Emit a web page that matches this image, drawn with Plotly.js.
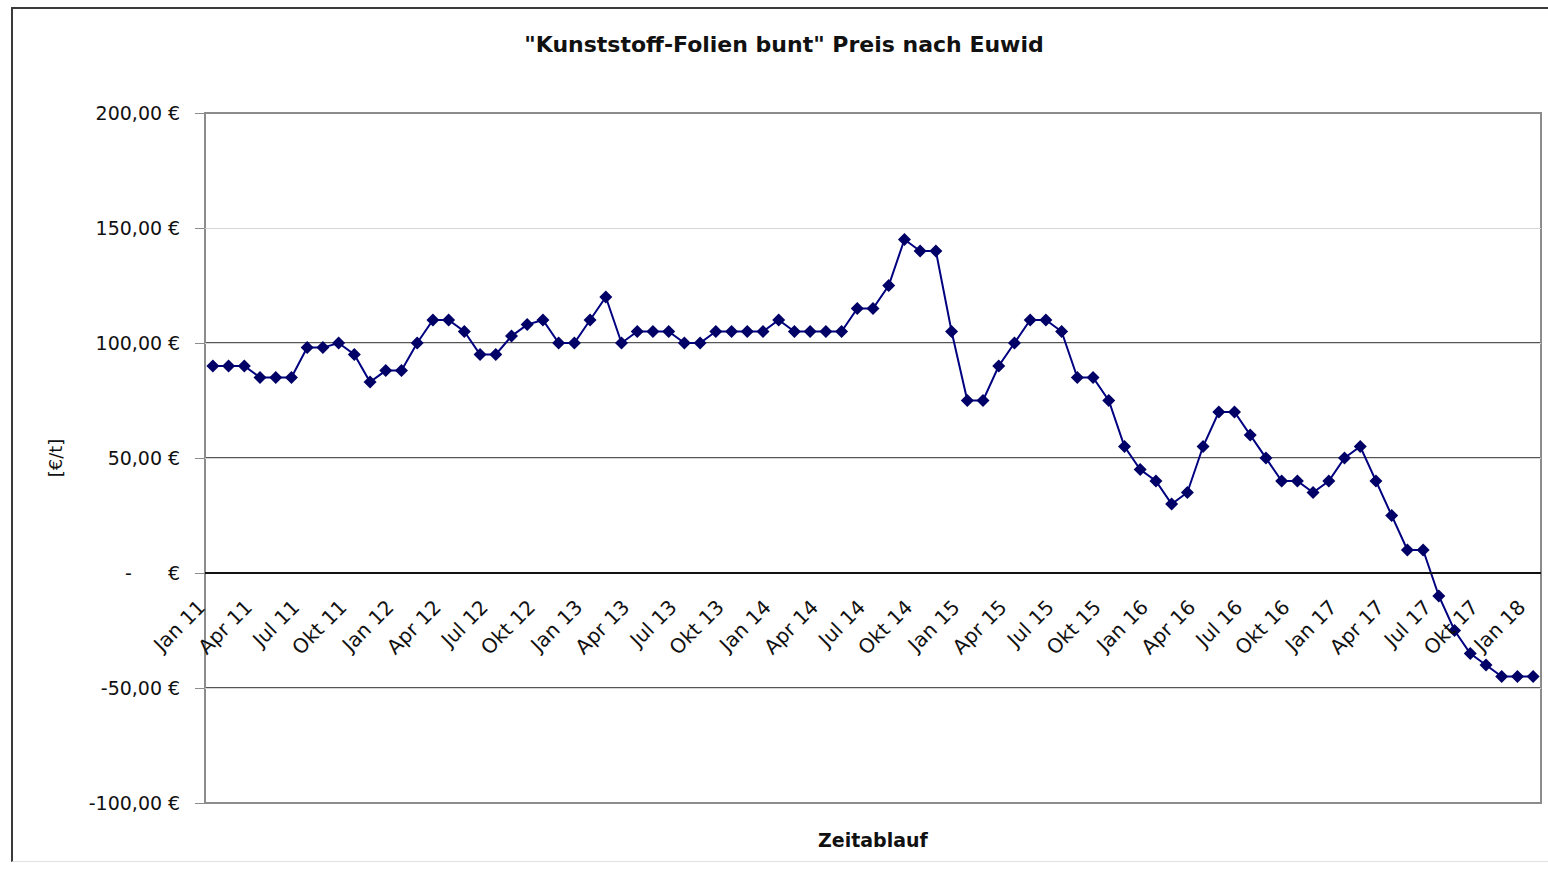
<!DOCTYPE html>
<html>
<head>
<meta charset="utf-8">
<script src="https://cdn.plot.ly/plotly-3.0.1.min.js"></script>
<style>
  html, body { margin: 0; padding: 0; background: #ffffff; }
  #wrap { position: relative; width: 1548px; height: 869px; overflow: hidden; }
  #chart { position: absolute; left: 0; top: 0; width: 1548px; height: 869px; }
  #frame { position: absolute; left: 11px; top: 7px; width: 1560px; height: 852px;
           border-left: 2px solid #3a3a3a; border-top: 2px solid #3a3a3a; border-bottom: 1px solid #e2e2e2;
           pointer-events: none; }
</style>
</head>
<body>
<div id="wrap">
  <div id="chart"></div>
  <div id="frame"></div>
</div>
<script>
// Monthly categories (Jan 11 .. Jan 18)
const months = [
  "Jan 11","Feb 11","Mrz 11","Apr 11","Mai 11","Jun 11","Jul 11","Aug 11","Sep 11","Okt 11","Nov 11","Dez 11",
  "Jan 12","Feb 12","Mrz 12","Apr 12","Mai 12","Jun 12","Jul 12","Aug 12","Sep 12","Okt 12","Nov 12","Dez 12",
  "Jan 13","Feb 13","Mrz 13","Apr 13","Mai 13","Jun 13","Jul 13","Aug 13","Sep 13","Okt 13","Nov 13","Dez 13",
  "Jan 14","Feb 14","Mrz 14","Apr 14","Mai 14","Jun 14","Jul 14","Aug 14","Sep 14","Okt 14","Nov 14","Dez 14",
  "Jan 15","Feb 15","Mrz 15","Apr 15","Mai 15","Jun 15","Jul 15","Aug 15","Sep 15","Okt 15","Nov 15","Dez 15",
  "Jan 16","Feb 16","Mrz 16","Apr 16","Mai 16","Jun 16","Jul 16","Aug 16","Sep 16","Okt 16","Nov 16","Dez 16",
  "Jan 17","Feb 17","Mrz 17","Apr 17","Mai 17","Jun 17","Jul 17","Aug 17","Sep 17","Okt 17","Nov 17","Dez 17",
  "Jan 18"
];

// Price "Kunststoff-Folien bunt" [€/t]
const prices = [
   90,  90,  90,  85,  85,  85,  98,  98, 100,  95,  83,  88,
   88, 100, 110, 110, 105,  95,  95, 103, 108, 110, 100, 100,
  110, 120, 100, 105, 105, 105, 100, 100, 105, 105, 105, 105,
  110, 105, 105, 105, 105, 115, 115, 125, 145, 140, 140, 105,
   75,  75,  90, 100, 110, 110, 105,  85,  85,  75,  55,  45,
   40,  30,  35,  55,  70,  70,  60,  50,  40,  40,  35,  40,
   50,  55,  40,  25,  10,  10, -10, -25, -35, -40, -45, -45,
  -45
];

// Quarterly x tick labels
const xTickLabels = ["Jan 11","Apr 11","Jul 11","Okt 11","Jan 12","Apr 12","Jul 12","Okt 12",
  "Jan 13","Apr 13","Jul 13","Okt 13","Jan 14","Apr 14","Jul 14","Okt 14",
  "Jan 15","Apr 15","Jul 15","Okt 15","Jan 16","Apr 16","Jul 16","Okt 16",
  "Jan 17","Apr 17","Jul 17","Okt 17","Jan 18"];

// Y axis ticks
const yTickVals = [200, 150, 100, 50, 0, -50, -100];
const yTickText = ["200,00 €", "150,00 €", "100,00 €", "50,00 €",
                   "-\u00a0\u00a0\u00a0\u00a0\u00a0\u00a0€", "-50,00 €", "-100,00 €"];
const yDarkGrid = [100, 50, -50];
const yMin = -100, yMax = 200;

const trace = {
  type: 'scatter',
  mode: 'lines+markers',
  x: months,
  y: prices,
  line: { color: '#000080', width: 2 },
  marker: { symbol: 'diamond', size: 10, color: '#000066' },
  hoverinfo: 'x+y',
  showlegend: false
};

const pad = '\u00a0\u00a0\u00a0';

// dark horizontal grid lines (Excel look) and the grey plot-area frame
const shapes = yDarkGrid.map(v => ({
  type: 'line', layer: 'below', xref: 'paper', x0: 0, x1: 1, yref: 'y', y0: v, y1: v,
  line: { color: '#1e1e1e', width: 1.5 }
}));
shapes.push({
  type: 'rect', layer: 'below', xref: 'paper', yref: 'paper', x0: 0, x1: 1, y0: 0, y1: 1,
  line: { color: '#8c8c8c', width: 2 }, fillcolor: 'rgba(0,0,0,0)'
});

const layout = {
  width: 1548,
  height: 869,
  autosize: false,
  paper_bgcolor: '#ffffff',
  plot_bgcolor: '#ffffff',
  margin: { l: 205, r: 7, t: 113, b: 66 },
  title: {
    text: '"Kunststoff-Folien bunt" Preis nach Euwid',
    font: { family: 'DejaVu Sans, sans-serif', size: 22, color: '#111', weight: 'bold' },
    xref: 'container', x: 784 / 1548, xanchor: 'center',
    yref: 'container', y: 1 - 44 / 869, yanchor: 'middle'
  },
  xaxis: {
    type: 'category',
    categoryorder: 'array',
    categoryarray: months,
    range: [-0.5, months.length - 0.5],
    anchor: 'free',
    position: (0 - yMin) / (yMax - yMin),
    tickmode: 'array',
    tickvals: xTickLabels,
    ticktext: xTickLabels.map(t => t + pad),
    tickangle: -45,
    tickfont: { family: 'DejaVu Sans, sans-serif', size: 20, color: '#111' },
    ticks: '',
    showgrid: false,
    zeroline: false,
    showline: true,
    linecolor: '#111111',
    linewidth: 2
  },
  yaxis: {
    range: [yMin, yMax],
    anchor: 'free',
    position: 0,
    tickmode: 'array',
    tickvals: yTickVals,
    ticktext: yTickText,
    tickfont: { family: 'DejaVu Sans, sans-serif', size: 19, color: '#111' },
    ticks: 'outside',
    ticklen: 10,
    tickwidth: 1,
    tickcolor: '#8c8c8c',
    ticklabelstandoff: 11,
    showgrid: true,
    gridcolor: '#d6d6d6',
    gridwidth: 1,
    zeroline: false,
    showline: false,
    title: {
      text: '[€/t]',
      font: { family: 'DejaVu Sans, sans-serif', size: 18, color: '#111' },
      standoff: 20
    }
  },
  shapes: shapes,
  annotations: [{
    text: 'Zeitablauf',
    xref: 'paper', x: 0.5, xanchor: 'center',
    yref: 'paper', y: 0, yanchor: 'top', yshift: -24,
    showarrow: false,
    font: { family: 'DejaVu Sans, sans-serif', size: 19, color: '#111', weight: 'bold' }
  }]
};

Plotly.newPlot('chart', [trace], layout, { displayModeBar: false, staticPlot: true });
</script>
</body>
</html>
